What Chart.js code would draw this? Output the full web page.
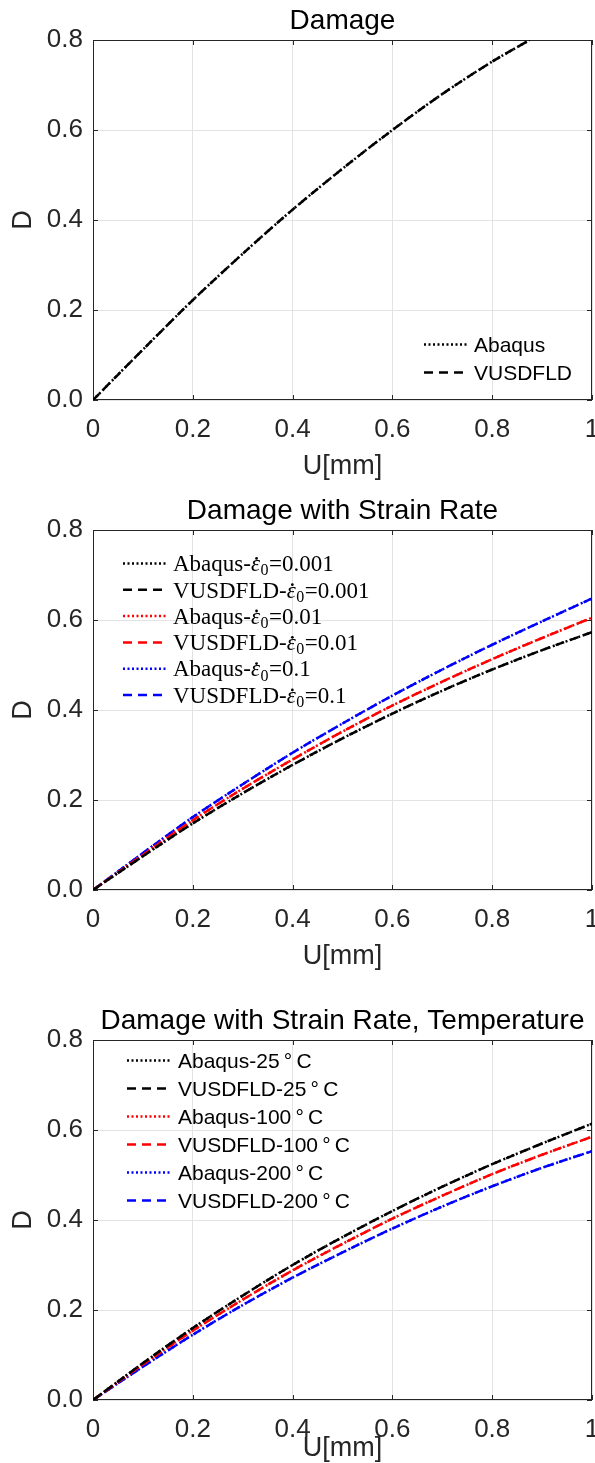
<!DOCTYPE html>
<html><head><meta charset="utf-8">
<script src="https://cdn.jsdelivr.net/npm/chart.js@4.4.1/dist/chart.umd.min.js"></script>
<style>
html,body{margin:0;padding:0;background:#fff;}
#wrap{position:relative;width:595px;height:1463px;overflow:hidden;background:#fff;}
canvas{position:absolute;left:0;}
</style></head><body>
<div id="wrap">
<canvas id="c1" width="595" height="490" style="top:0px"></canvas>
<canvas id="c2" width="595" height="490" style="top:490px"></canvas>
<canvas id="c3" width="595" height="463" style="top:1000px"></canvas>
</div>
<script>
// ---------- data ----------
const xTicks = [0, 0.2, 0.4, 0.6, 0.8, 1];
const yTickLabels = ['0.0', '0.2', '0.4', '0.6', '0.8'];

// Plot 1: Damage
const U_damage = [0, 0.1, 0.2, 0.3, 0.4, 0.5, 0.6, 0.7, 0.8, 0.875];
const D_abaqus = [0, 0.112, 0.222, 0.325, 0.423, 0.514, 0.600, 0.680, 0.752, 0.800];
const D_vusdfld = [0, 0.112, 0.222, 0.325, 0.423, 0.514, 0.600, 0.680, 0.752, 0.800];

// Plots 2 and 3 share the same displacement samples
const U = [0, 0.1, 0.2, 0.3, 0.4, 0.5, 0.6, 0.7, 0.8, 0.9, 1.0];

// Plot 2: strain rate
const rateLabels = ['0.001', '0.01', '0.1'];
const D_rate_0001 = [0, 0.075, 0.148, 0.215, 0.278, 0.337, 0.392, 0.443, 0.490, 0.533, 0.573];
const D_rate_001  = [0, 0.078, 0.155, 0.225, 0.290, 0.352, 0.410, 0.463, 0.513, 0.560, 0.605];
const D_rate_01   = [0, 0.082, 0.162, 0.235, 0.305, 0.370, 0.432, 0.490, 0.545, 0.597, 0.648];

// Plot 3: strain rate + temperature
const tempLabels = ['25', '100', '200'];
const D_temp_25  = [0, 0.082, 0.160, 0.232, 0.300, 0.362, 0.420, 0.474, 0.524, 0.570, 0.614];
const D_temp_100 = [0, 0.079, 0.154, 0.223, 0.288, 0.347, 0.403, 0.454, 0.502, 0.545, 0.585];
const D_temp_200 = [0, 0.074, 0.145, 0.211, 0.272, 0.328, 0.381, 0.430, 0.475, 0.516, 0.553];

// ---------- styles ----------
const SANS = '"Liberation Sans", Arial, Helvetica, sans-serif';
const SERIF = '"Liberation Serif", "Times New Roman", serif';
const DOT = [2, 2.5];
const DASH = [9, 6];
const COLORS = ['#000000', '#ff0000', '#0000ff'];

function pts(xs, ys) { return xs.map((x, i) => ({ x: x, y: ys[i] })); }
function ds(label, xs, ys, color, dash) {
  return { label: label, data: pts(xs, ys), borderColor: color, backgroundColor: color,
    borderDash: dash, borderWidth: 2.5, pointRadius: 0, fill: false, tension: 0.3,
    borderCapStyle: 'butt' };
}

// rich text for legend (handles epsilon-dot with subscript 0)
function drawRich(ctx, text, x, y, size, serif) {
  const fam = serif ? SERIF : SANS;
  const i = text.indexOf('\u03B5');
  ctx.font = size + 'px ' + fam;
  if (i < 0) { ctx.fillText(text, x, y); return; }
  const pre = text.slice(0, i);
  const post = text.slice(i + 3);
  ctx.fillText(pre, x, y); x += ctx.measureText(pre).width;
  ctx.font = 'italic ' + size + 'px ' + fam;
  ctx.fillText('\u03B5', x, y);
  const w = ctx.measureText('\u03B5').width;
  ctx.beginPath(); ctx.arc(x + w * 0.62, y - size * 0.56, size * 0.06, 0, Math.PI * 2); ctx.fill();
  x += w + 0.5;
  ctx.font = Math.round(size * 0.7) + 'px ' + fam;
  ctx.fillText('0', x, y + size * 0.18); x += ctx.measureText('0').width + 0.5;
  ctx.font = size + 'px ' + fam;
  ctx.fillText(post, x, y);
}

const matlab = {
  id: 'matlab',
  beforeDatasetsDraw(chart, args, o) {
    const ctx = chart.ctx, a = chart.chartArea;
    const xs = chart.scales.x, ys = chart.scales.y;
    ctx.save();
    ctx.strokeStyle = '#262626'; ctx.lineWidth = 1; ctx.setLineDash([]);
    ctx.strokeRect(a.left + 0.5, a.top + 0.5, a.right - a.left - 1, a.bottom - a.top - 1);
    ctx.beginPath();
    xs.ticks.forEach(t => {
      const px = Math.round(xs.getPixelForValue(t.value)) + 0.5;
      ctx.moveTo(px, a.bottom); ctx.lineTo(px, a.bottom - 5);
      ctx.moveTo(px, a.top); ctx.lineTo(px, a.top + 5);
    });
    ys.ticks.forEach(t => {
      const py = Math.round(ys.getPixelForValue(t.value)) + 0.5;
      ctx.moveTo(a.left, py); ctx.lineTo(a.left + 5, py);
      ctx.moveTo(a.right, py); ctx.lineTo(a.right - 5, py);
    });
    ctx.stroke();
    ctx.restore();
  },
  afterDraw(chart, args, o) {
    const ctx = chart.ctx, a = chart.chartArea;
    ctx.save();
    ctx.fillStyle = '#000';
    ctx.textAlign = 'center'; ctx.textBaseline = 'alphabetic';
    ctx.font = '28px ' + SANS;
    ctx.fillText(o.title, (a.left + a.right) / 2, o.titleY);
    ctx.fillStyle = '#262626';
    ctx.font = '27px ' + SANS;
    ctx.fillText(o.xlabel, (a.left + a.right) / 2, o.xlabelY);
    ctx.save();
    ctx.translate(o.ylabelX, (a.top + a.bottom) / 2);
    ctx.rotate(-Math.PI / 2);
    ctx.fillText(o.ylabel, 0, 0);
    ctx.restore();
    // legend
    const L = o.legend;
    ctx.textAlign = 'left';
    chart.data.datasets.forEach((d, i) => {
      const y = L.y0 + i * L.dy;
      ctx.strokeStyle = d.borderColor; ctx.lineWidth = 2.5;
      ctx.setLineDash(d.borderDash); ctx.lineCap = 'butt';
      ctx.beginPath(); ctx.moveTo(L.x0, y + 0.5); ctx.lineTo(L.x1, y + 0.5); ctx.stroke();
      ctx.setLineDash([]);
      ctx.fillStyle = '#000';
      drawRich(ctx, d.label, L.tx, y + L.size * 0.36, L.size, L.serif);
    });
    ctx.restore();
  }
};

function makeChart(id, datasets, opts) {
  const canvas = document.getElementById(id);
  const H = canvas.height;
  return new Chart(canvas, {
    type: 'line',
    data: { datasets: datasets },
    plugins: [matlab],
    options: {
      responsive: false, animation: false, devicePixelRatio: 1,
      layout: { padding: { top: 40, right: 3, left: 0, bottom: 0 } },
      plugins: { legend: { display: false }, title: { display: false }, tooltip: { enabled: false },
        matlab: opts },
      scales: {
        x: {
          type: 'linear', min: 0, max: 1, offset: false,
          afterBuildTicks: s => { s.ticks = xTicks.map(v => ({ value: v })); },
          afterFit: s => { s.height = H - 400; s.paddingLeft = 0; s.paddingRight = 0; },
          grid: { color: '#e3e3e3', lineWidth: 1, drawTicks: false },
          border: { display: false },
          ticks: { autoSkip: false, maxRotation: 0, padding: 14, color: '#262626',
            font: { family: SANS, size: 26 }, callback: v => String(v) }
        },
        y: {
          type: 'linear', min: 0, max: 0.8,
          afterBuildTicks: s => { s.ticks = yTickLabels.map(v => ({ value: parseFloat(v) })); },
          afterFit: s => { s.width = 93; s.paddingTop = 0; s.paddingBottom = 0; },
          grid: { color: '#e3e3e3', lineWidth: 1, drawTicks: false },
          border: { display: false },
          ticks: { autoSkip: false, padding: 10, color: '#262626',
            font: { family: SANS, size: 26 },
            callback: v => yTickLabels[Math.round(v / 0.2)] }
        }
      }
    }
  });
}

makeChart('c1', [
  ds('Abaqus', U_damage, D_abaqus, '#000000', DOT),
  ds('VUSDFLD', U_damage, D_vusdfld, '#000000', DASH)
], { title: 'Damage', titleY: 29, xlabel: 'U[mm]', xlabelY: 474, ylabel: 'D', ylabelX: 31,
     legend: { x0: 424, x1: 467, tx: 474, y0: 344, dy: 28, size: 21, serif: false } });

const rateData = [D_rate_0001, D_rate_001, D_rate_01];
const ds2 = [];
rateLabels.forEach((r, i) => {
  ds2.push(ds('Abaqus-\u03B5\u0307\u2080=' + r, U, rateData[i], COLORS[i], DOT));
  ds2.push(ds('VUSDFLD-\u03B5\u0307\u2080=' + r, U, rateData[i], COLORS[i], DASH));
});
makeChart('c2', ds2, { title: 'Damage with Strain Rate', titleY: 29, xlabel: 'U[mm]', xlabelY: 474,
  ylabel: 'D', ylabelX: 31,
  legend: { x0: 123, x1: 167, tx: 173, y0: 73, dy: 26.3, size: 23, serif: true } });

const tempData = [D_temp_25, D_temp_100, D_temp_200];
const ds3 = [];
tempLabels.forEach((t, i) => {
  ds3.push(ds('Abaqus-' + t + '\u2009\u00B0\u2009C', U, tempData[i], COLORS[i], DOT));
  ds3.push(ds('VUSDFLD-' + t + '\u2009\u00B0\u2009C', U, tempData[i], COLORS[i], DASH));
});
makeChart('c3', ds3, { title: 'Damage with Strain Rate, Temperature', titleY: 29, xlabel: 'U[mm]',
  xlabelY: 456, ylabel: 'D', ylabelX: 31,
  legend: { x0: 127, x1: 171, tx: 178, y0: 60, dy: 28, size: 21, serif: false } });
</script>
</body></html>
